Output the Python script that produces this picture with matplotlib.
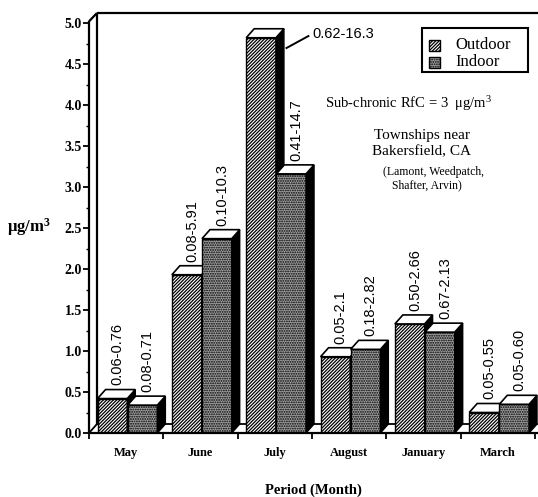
import numpy as np
import matplotlib.pyplot as plt
from matplotlib.patches import Polygon, Rectangle

months = ["May", "June", "July", "August", "January", "March"]
outdoor = [0.42, 1.93, 4.82, 0.93, 1.33, 0.25]
indoor = [0.34, 2.37, 3.16, 1.02, 1.23, 0.35]
outdoor_range = ["0.06-0.76", "0.08-5.91", "0.62-16.3", "0.05-2.1", "0.50-2.66", "0.05-0.55"]
indoor_range = ["0.08-0.71", "0.10-10.3", "0.41-14.7", "0.18-2.82", "0.67-2.13", "0.05-0.60"]

plt.rcParams['font.family'] = 'serif'
plt.rcParams['font.serif'] = ['Liberation Serif', 'DejaVu Serif']
plt.rcParams['hatch.linewidth'] = 0.9

fig = plt.figure(figsize=(5.38, 4.97), dpi=100)
# pixel layout: 1 group = 74.33 px, 1 unit on y = 82 px
ax = fig.add_axes([89/538, 64/497, 449/538, 420/497])
xmax, ymax = 449/74.33, 420/82
ax.set_xlim(0, xmax)
ax.set_ylim(0, ymax)
for s in ax.spines.values():
    s.set_visible(False)

dx, dy = 8/74.33, 9/82
bw = 0.40
x_out = np.arange(len(months)) + 0.115
x_in = np.arange(len(months)) + 0.52

OUT_FACE, OUT_HATCH = 'white', '/' * 10
IN_FACE, IN_HATCH = '#a0a0a0', '.' * 7


def bar3d(x, h, face, hatch, z):
    ax.bar(x, h, bw, align='edge', color=face, edgecolor='black', hatch=hatch,
           lw=1, zorder=z)
    ax.add_patch(Polygon([(x+bw, 0), (x+bw+dx, dy), (x+bw+dx, h+dy), (x+bw, h)],
                         fc='black', ec='black', lw=1, zorder=z))
    ax.add_patch(Polygon([(x, h), (x+dx, h+dy), (x+bw+dx, h+dy), (x+bw, h)],
                         fc='white', ec='black', lw=1.2, zorder=z))


for i in range(len(months)):
    bar3d(x_out[i], outdoor[i], OUT_FACE, OUT_HATCH, 3)
    bar3d(x_in[i], indoor[i], IN_FACE, IN_HATCH, 4)

# range labels
lab = dict(family='Liberation Sans', fontsize=10.5, rotation=90, ha='center', va='bottom')
for i in range(len(months)):
    if months[i] != "July":
        ax.text(x_out[i] + bw/2 + 0.07, outdoor[i] + 0.16, outdoor_range[i], **lab)
    ax.text(x_in[i] + bw/2 + 0.07, indoor[i] + 0.16, indoor_range[i], **lab)
# July outdoor label with leader line
ax.plot([2.657, 2.952], [4.695, 4.841], color='black', lw=1.4, zorder=5)
ax.text(3.0, 4.87, outdoor_range[2], family='Liberation Sans', fontsize=10.5,
        ha='left', va='center')

# 3-D frame
fl = dict(color='black', lw=1.6, clip_on=False, zorder=6, solid_capstyle='butt')
ax.plot([0, 0], [0, 5.02], **fl)
ax.plot([0, dx], [5.02, ymax], **fl)
ax.plot([dx, dx], [dy, ymax], color='black', lw=1.6, zorder=1)
ax.plot([dx, xmax], [ymax, ymax], **fl)
ax.plot([0, xmax], [0, 0], **fl)
ax.plot([dx, xmax], [dy, dy], color='black', lw=1.3, zorder=1)
ax.plot([0, dx], [0, dy], color='black', lw=1.3, zorder=1)

# ticks
ax.set_yticks(np.arange(0, 5.01, 0.5))
ax.set_yticklabels([f'{v:.1f}' for v in np.arange(0, 5.01, 0.5)],
                   fontweight='bold', fontsize=10)
ax.set_yticks(np.arange(0.25, 5.0, 0.5), minor=True)
ax.tick_params(axis='y', which='major', length=4, width=1.3, pad=1)
ax.tick_params(axis='y', which='minor', length=2, width=1)
ax.set_xticks(np.arange(len(months) + 1))
ax.set_xticklabels([])
ax.set_xticks(np.arange(len(months)) + 0.5, months, minor=True,
              fontweight='bold', fontsize=9)
ax.tick_params(axis='x', which='major', length=4, width=1.3)
ax.tick_params(axis='x', which='minor', length=0, pad=10)

ax.set_xlabel('Period (Month)', fontweight='bold', fontsize=10.5, labelpad=18)
fig.text(7/538, 1 - 227/497, r'$\mathregular{\mu}$g/m$\mathregular{^3}$',
         fontweight='bold', fontsize=12, ha='left', va='center')

# annotations
ax.text(4.305, 4.02, r'Sub-chronic RfC = 3  μg/m$\mathregular{^3}$', fontsize=10.5,
        ha='center', va='center')
ax.text(4.48, 3.63, 'Townships near', fontsize=11, ha='center', va='center')
ax.text(4.48, 3.43, 'Bakersfield, CA', fontsize=11, ha='center', va='center')
ax.text(4.63, 3.18, '(Lamont, Weedpatch,', fontsize=8.5, ha='center', va='center')
ax.text(4.55, 3.02, 'Shafter, Arvin)', fontsize=8.5, ha='center', va='center')

# legend box (pixel positions converted to axes fraction)
def axf(px, py):
    return (px - 89) / 449, (433 - py) / 420

x0, y0 = axf(422, 72)
x1, y1 = axf(528, 28)
ax.add_patch(Rectangle((x0, y0), x1 - x0, y1 - y0, transform=ax.transAxes,
                       fc='white', ec='black', lw=1.5, zorder=7, clip_on=False))
for name, face, hatch, py in [('Outdoor', OUT_FACE, OUT_HATCH, 45),
                              ('Indoor', IN_FACE, IN_HATCH, 62)]:
    hx, hy = axf(429, py + 5.5)
    ax.add_patch(Rectangle((hx, hy), 11/449, 11/420, transform=ax.transAxes,
                           fc=face, ec='black', hatch=hatch, lw=1, zorder=8))
    tx, ty = axf(455, py)
    ax.text(tx, ty, name, transform=ax.transAxes, fontsize=12, ha='left',
            va='center', zorder=8)

fig.savefig('out.png', dpi=100)
